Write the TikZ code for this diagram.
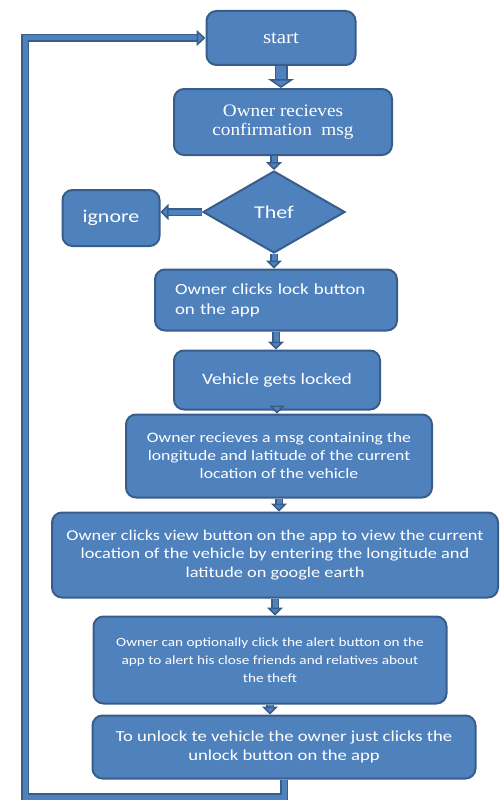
\documentclass[tikz,border=0pt]{standalone}
\usepackage{fontspec}
\setmainfont{Carlito}[FakeStretch=1.22]
\newfontfamily\serifface{Liberation Serif}[FakeStretch=1.1]
\usetikzlibrary{shapes.geometric,arrows.meta}

\definecolor{boxblue}{HTML}{4F81BD}
\definecolor{edgeblue}{HTML}{385D8A}

\tikzstyle{box}=[rectangle,rounded corners=10pt,draw=edgeblue,line width=2pt,fill=boxblue,text=white,align=center,inner sep=4pt]
\tikzstyle{decision}=[diamond,draw=edgeblue,line width=2pt,fill=boxblue,text=white,inner sep=0pt]
\tikzstyle{flow} = [draw=edgeblue,line width=1.5pt,double=boxblue,double distance=5pt,-{Triangle[width=16pt,length=8pt,fill=boxblue,line width=1.5pt]}]
\tikzstyle{big flow} = [draw=edgeblue,line width=1.5pt,double=boxblue,double distance=10pt,-{Triangle[width=26pt,length=9pt,fill=boxblue,line width=1.5pt]}]
\tikzstyle{loop edge} = [draw=edgeblue,line width=1.5pt,double=boxblue,double distance=5pt,-{Triangle[width=16pt,length=9pt,fill=boxblue,line width=1.5pt]}]

\begin{document}
\begin{tikzpicture}[x=1pt,y=-1pt]
\useasboundingbox (0,0) rectangle (500,800);

\node[box,minimum width=149pt,minimum height=54pt,font=\serifface\fontsize{19}{20}\selectfont] (start) at (281,38) {start};
\node[box,minimum width=218pt,minimum height=66pt,font=\serifface\fontsize{17.5}{19}\selectfont] (confirm) at (283,122) {Owner recieves\\confirmation~ msg};
\node[decision,minimum width=142pt,minimum height=82pt,font=\fontsize{18}{20}\selectfont] (thef) at (274,212) {Thef};
\node[box,minimum width=97pt,minimum height=56pt,font=\fontsize{18}{20}\selectfont] (ignore) at (111,218) {ignore};
\node[box,minimum width=242pt,minimum height=61pt,text width=202pt,align=left,font=\fontsize{15.5}{20}\selectfont] (lock) at (276,300) {Owner clicks lock button\\on the app};
\node[box,minimum width=206pt,minimum height=59pt,font=\fontsize{16}{18}\selectfont] (locked) at (277,380) {Vehicle gets locked};
\node[box,minimum width=306pt,minimum height=83pt,font=\fontsize{14.5}{18}\selectfont] (coords) at (279,456) {Owner recieves a msg containing the\\longitude and latitude of the current\\location of the vehicle};
\node[box,minimum width=446pt,minimum height=85pt,font=\fontsize{15}{18.5}\selectfont] (view) at (275,555) {Owner clicks view button on the app to view the current\\location of the vehicle by entering the longitude and\\latitude on google earth};
\node[box,minimum width=353pt,minimum height=87pt,font=\fontsize{12.5}{18}\selectfont] (alert) at (270,660) {Owner can optionally click the alert button on the\\app to alert his close friends and relatives about\\the theft};
\node[box,minimum width=383pt,minimum height=63pt,font=\fontsize{15.3}{19}\selectfont] (unlock) at (284,747) {To unlock te vehicle the owner just clicks the\\unlock button on the app};

\coordinate (corner) at (25,797);

\path[big flow] (start.south) -- (start.south |- confirm.north);
\path[flow] (thef.north |- confirm.south) -- (thef.north);
\path[flow] (thef.west) -- (ignore.east |- thef.west);
\foreach \source/\dest in {thef/lock, lock/locked, locked/coords, coords/view, view/alert, alert/unlock}{
  \path[flow] (\source.south) -- (\source.south |- \dest.north);
}
\path[loop edge] (unlock.south) |- (corner) |- (start.west);
\end{tikzpicture}
\end{document}
